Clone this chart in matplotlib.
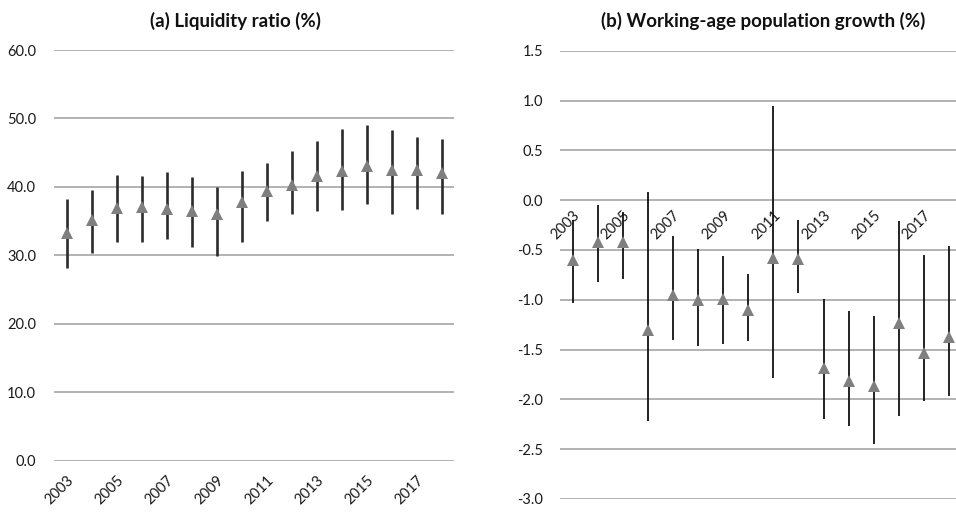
import matplotlib
matplotlib.use("Agg")
import matplotlib.pyplot as plt
import numpy as np

plt.rcParams['font.family'] = ['Lato', 'DejaVu Sans']

years = list(range(2003, 2019))
year_labels = [str(y) for y in years]

# (a) Liquidity ratio (%)
liq_mid = [33.2, 35.2, 36.9, 37.0, 36.8, 36.5, 36.1, 37.8, 39.4, 40.3, 41.6, 42.3, 43.1, 42.5, 42.4, 42.0]
liq_hi  = [38.2, 39.5, 41.8, 41.6, 42.2, 41.4, 40.0, 42.3, 43.5, 45.2, 46.7, 48.4, 49.1, 48.3, 47.3, 47.0]
liq_lo  = [28.1, 30.3, 31.9, 31.9, 32.4, 31.2, 29.9, 31.9, 35.0, 36.1, 36.5, 36.6, 37.5, 36.0, 36.7, 36.0]

# (b) Working-age population growth (%)
pop_mid = [-0.60, -0.42, -0.42, -1.30, -0.95, -1.00, -0.99, -1.10, -0.585, -0.59, -1.69, -1.82, -1.87, -1.23, -1.53, -1.37]
pop_hi  = [-0.20, -0.05, -0.12, 0.08, -0.36, -0.49, -0.56, -0.74, 0.94, -0.20, -0.99, -1.11, -1.16, -0.21, -0.55, -0.46]
pop_lo  = [-1.03, -0.82, -0.79, -2.22, -1.40, -1.46, -1.44, -1.41, -1.79, -0.93, -2.20, -2.27, -2.45, -2.17, -2.02, -1.97]

W, H = 956, 512
fig = plt.figure(figsize=(W / 100, H / 100), dpi=100)

grid_col = '#9e9e9e'
tri_col = '#7f7f7f'
txt_col = '#1a1a1a'

def ax_rect(x0, y0, x1, y1):
    return [x0 / W, 1 - y1 / H, (x1 - x0) / W, (y1 - y0) / H]

ax1 = fig.add_axes(ax_rect(54.3, 50.0, 454.3, 460.7))
ax2 = fig.add_axes(ax_rect(560.0, 50.7, 961.6, 499.0))

x = np.arange(len(years))

def style(ax, ylim, yticks, fmt, xpad, ypad):
    ax.set_xlim(-0.5, len(years) - 0.5)
    ax.set_ylim(*ylim)
    for s in ax.spines.values():
        s.set_visible(False)
    ax.set_yticks(yticks)
    ax.set_yticklabels([fmt.format(v) for v in yticks], fontsize=10.5, color=txt_col)
    ax.yaxis.grid(True, color=grid_col, linewidth=1.1)
    ax.set_axisbelow(True)
    ax.tick_params(axis='y', length=0, pad=ypad)
    ax.set_xticks(x[::2][:8])
    ax.set_xticklabels(year_labels[::2][:8], rotation=45, ha='right',
                       rotation_mode='anchor', fontsize=10.5, color=txt_col)
    ax.tick_params(axis='x', length=0, pad=xpad)

ax2.spines['bottom'].set_position(('data', 0))

style(ax1, (0, 60), np.arange(0, 61, 10), '{:.1f}', 9, 13)
ax1.vlines(x, liq_lo, liq_hi, color='#2b2b2b', linewidth=1.9, zorder=2)
ax1.plot(x, liq_mid, linestyle='none', marker='^', markersize=9,
         color=tri_col, markeredgewidth=0, zorder=3)

style(ax2, (-3.0, 1.5), np.arange(-3.0, 1.51, 0.5), '{:.1f}', 6, 12)
ax2.vlines(x, pop_lo, pop_hi, color='#111111', linewidth=1.3, zorder=2)
ax2.plot(x, pop_mid, linestyle='none', marker='^', markersize=9,
         color=tri_col, markeredgewidth=0, zorder=3)

fig.text(236 / W, 1 - 21 / H, '(a) Liquidity ratio (%)', ha='center', va='center',
         fontsize=13.5, fontweight='bold', color='#111111')
fig.text(763 / W, 1 - 21 / H, '(b) Working-age population growth (%)', ha='center', va='center',
         fontsize=13.5, fontweight='bold', color='#111111')

fig.savefig('out.png', dpi=100)
